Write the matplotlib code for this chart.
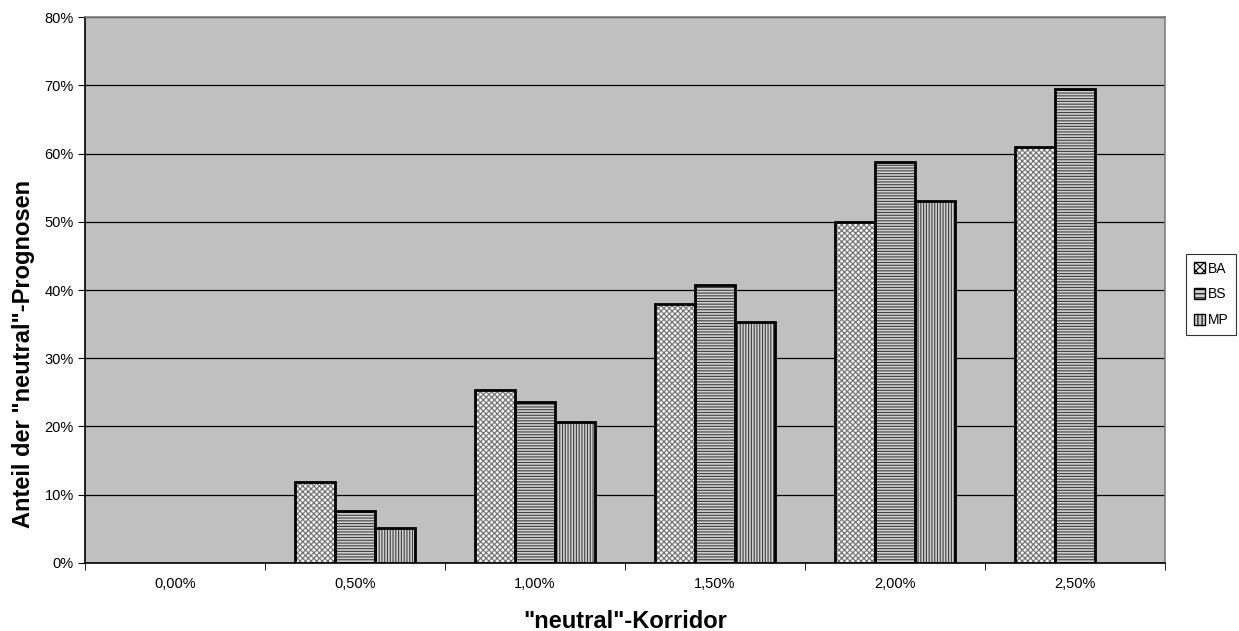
import numpy as np
import matplotlib.pyplot as plt
from matplotlib.patches import Patch

plt.rcParams['font.family'] = ['Liberation Sans', 'DejaVu Sans']

categories = ["0,00%", "0,50%", "1,00%", "1,50%", "2,00%", "2,50%"]
ba = [0.0, 11.8, 25.3, 38.0, 50.0, 60.9]
bs = [0.0, 7.6, 23.6, 40.7, 58.7, 69.4]
mp = [0.0, 5.1, 20.6, 35.3, 53.0, 0.0]
series_names = ["BA", "BS", "MP"]
y_ticks = [0, 10, 20, 30, 40, 50, 60, 70, 80]

styles = [
    dict(face="#f4f4f4", hatch="xxxxxx", hcol="#707070"),
    dict(face="#d0d0d0", hatch="------", hcol="#404040"),
    dict(face="#d0d0d0", hatch="||||||", hcol="#404040"),
]

fig = plt.figure(figsize=(12.39, 6.31), dpi=100)
ax = fig.add_axes([0.0686, 0.1078, 0.8717, 0.8652])
ax.set_facecolor("#c0c0c0")

x = np.arange(len(categories))
w = 1 / 4.5
plt.rcParams['hatch.linewidth'] = 0.8
for i, (vals, st) in enumerate(zip([ba, bs, mp], styles)):
    pos = x + (i - 1) * w
    plt.rcParams['hatch.color'] = st["hcol"]
    ax.bar(pos, vals, width=w, color=st["face"], hatch=st["hatch"],
           edgecolor=st["hcol"], linewidth=0, zorder=3)
    # no outline for empty bars
    lws = [2 if v > 0 else 0 for v in vals]
    ax.bar(pos, vals, width=w, fill=False, edgecolor="black",
           linewidth=lws, zorder=4)

ax.set_xlim(-0.5, len(categories) - 0.5)
ax.set_ylim(0, 80)
ax.set_yticks(y_ticks)
ax.set_yticklabels([f"{v}%" for v in y_ticks], fontsize=10.5)
ax.yaxis.grid(True, color="black", linewidth=0.9, zorder=1)
ax.set_axisbelow(True)

ax.set_xticks(x)
ax.set_xticklabels(categories, fontsize=10.5)
ax.tick_params(axis="x", length=0, pad=10)
ax.set_xticks(np.arange(len(categories) + 1) - 0.5, minor=True)
ax.tick_params(axis="x", which="minor", length=5, direction="out", color="black")
ax.tick_params(axis="y", length=5, direction="out", color="black", pad=3)

for side in ["top", "right"]:
    ax.spines[side].set_color("#808080")
    ax.spines[side].set_linewidth(1.2)
for side in ["left", "bottom"]:
    ax.spines[side].set_color("black")
    ax.spines[side].set_linewidth(1.2)

ax.set_xlabel('"neutral"-Korridor', fontsize=17, fontweight="bold", labelpad=14)
fig.text(24 / 1239, 1 - 354 / 631, 'Anteil der "neutral"-Prognosen',
         fontsize=17, fontweight="bold", rotation=90, ha="center", va="center")

handles = []
for name, st in zip(series_names, styles):
    handles.append(Patch(facecolor=st["face"], hatch=st["hatch"][:4],
                         edgecolor="black", linewidth=1, label=name))
leg = fig.legend(handles=handles, loc="upper left",
                 bbox_to_anchor=(1186 / 1239, 1 - 254 / 631),
                 fontsize=10, frameon=True, fancybox=False, edgecolor="black",
                 handlelength=0.85, handleheight=0.85, handletextpad=0.15,
                 labelspacing=0.85, borderpad=0.55, borderaxespad=0)
leg.get_frame().set_linewidth(0.8)

fig.savefig("out.png", dpi=100)
